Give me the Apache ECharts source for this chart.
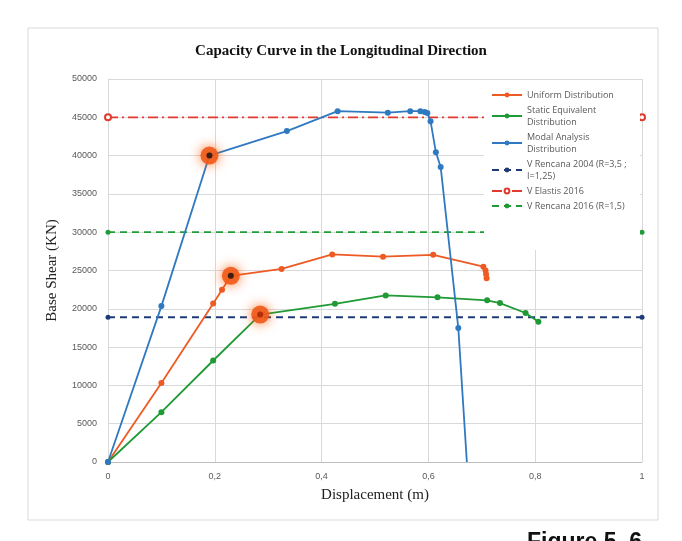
<!DOCTYPE html>
<html>
<head>
<meta charset="utf-8">
<script src="https://cdn.jsdelivr.net/npm/echarts@6/dist/echarts.min.js"></script>
<style>
  html, body { margin: 0; padding: 0; background: #fff; }
  #chart { width: 682px; height: 541px; }
</style>
</head>
<body>
<div id="chart"></div>
<script>
// displacement (m), base shear (KN)
const uniformDist = [
  [0, 0], [0.10, 10300], [0.197, 20700], [0.2135, 22500], [0.23, 24300],
  [0.325, 25200], [0.42, 27100], [0.515, 26800], [0.609, 27050],
  [0.703, 25500], [0.707, 25000], [0.708, 24500], [0.709, 24000]
];
const staticEquivalent = [
  [0, 0], [0.10, 6500], [0.197, 13250], [0.285, 19250], [0.425, 20650],
  [0.52, 21750], [0.617, 21500], [0.71, 21100], [0.734, 20750],
  [0.782, 19450], [0.806, 18300]
];
const modalAnalysis = [
  [0, 0], [0.10, 20350], [0.19, 40000], [0.335, 43200], [0.43, 45800],
  [0.524, 45600], [0.566, 45800], [0.585, 45800], [0.593, 45700],
  [0.598, 45550], [0.604, 44500], [0.614, 40450], [0.623, 38500],
  [0.656, 17500], [0.672, 0]
];
const refRange = [0, 1];
const vRencana2004 = 18900;
const vElastis2016 = 45000;
const vRencana2016 = 30000;
// performance points (glowing markers)
const perfPoints = [[0.19, 40000], [0.23, 24300], [0.285, 19250]];
const perfCenters = ['#111', '#111', '#a5200a'];

const xTicks = [0, 0.2, 0.4, 0.6, 0.8, 1];
const yTicks = [0, 5000, 10000, 15000, 20000, 25000, 30000, 35000, 40000, 45000, 50000];

const legendNames = {
  'Uniform Distribution': 'Uniform Distribution',
  'Static Equivalent Distribution': 'Static Equivalent\nDistribution',
  'Modal Analysis Distribution': 'Modal Analysis\nDistribution',
  'V Rencana 2004 (R=3,5 ; I=1,25)': 'V Rencana 2004 (R=3,5 ;\nI=1,25)',
  'V Elastis 2016': 'V Elastis 2016',
  'V Rencana 2016 (R=1,5)': 'V Rencana 2016 (R=1,5)'
};

const chart = echarts.init(document.getElementById('chart'), null, { renderer: 'canvas' });

function curve(name, data, color) {
  return {
    name: name,
    type: 'line',
    data: data.map((d, i) => (name === 'Modal Analysis Distribution' && i === data.length - 1)
      ? { value: d, symbol: 'none' } : d),
    symbol: 'circle',
    symbolSize: 6,
    lineStyle: { color: color, width: 1.8 },
    itemStyle: { color: color },
    z: 3
  };
}

function refLine(name, value, color, type, symbol) {
  const hollow = symbol === 'emptyCircle';
  return {
    name: name,
    type: 'line',
    data: refRange.map(x => [x, value]),
    symbol: symbol,
    symbolSize: hollow ? 6 : 5,
    lineStyle: { color: color, width: 1.8, type: type },
    itemStyle: { color: color, borderColor: color, borderWidth: hollow ? 1.5 : 0 },
    z: 2
  };
}

const option = {
  backgroundColor: '#fff',
  animation: false,
  title: {
    text: 'Capacity Curve in the Longitudinal Direction',
    left: 'center',
    top: 39,
    textStyle: { fontFamily: 'Liberation Serif', fontSize: 15, fontWeight: 'bold', color: '#111' }
  },
  grid: { left: 108, right: 40, top: 79, bottom: 79 },
  xAxis: {
    type: 'value',
    min: 0, max: 1, interval: 0.2,
    name: 'Displacement (m)',
    nameLocation: 'middle',
    nameGap: 26,
    nameTextStyle: { fontFamily: 'Liberation Serif', fontSize: 15, color: '#222' },
    axisLine: { lineStyle: { color: '#bfbfbf' } },
    axisTick: { show: false },
    axisLabel: {
      color: '#595959', fontSize: 9, margin: 10,
      formatter: v => xTicks.includes(v) ? String(v).replace('.', ',') : ''
    },
    splitLine: { lineStyle: { color: '#d9d9d9' } }
  },
  yAxis: {
    type: 'value',
    min: 0, max: 50000, interval: 5000,
    name: 'Base Shear (KN)',
    nameLocation: 'middle',
    nameGap: 48,
    nameTextStyle: { fontFamily: 'Liberation Serif', fontSize: 15, color: '#222' },
    axisLine: { show: true, lineStyle: { color: '#d9d9d9' } },
    axisTick: { show: false },
    axisLabel: {
      color: '#595959', fontSize: 9, margin: 11,
      formatter: v => yTicks.includes(v) ? String(v) : ''
    },
    splitLine: { lineStyle: { color: '#d9d9d9' } }
  },
  legend: {
    orient: 'vertical',
    left: 486,
    top: 84,
    itemWidth: 30,
    itemHeight: 6,
    itemGap: 3,
    textStyle: { color: '#595959', fontSize: 9, lineHeight: 12, fontFamily: 'Open Sans' },
    formatter: n => legendNames[n] || n,
    data: Object.keys(legendNames),
    z: 6
  },
  graphic: [
    { type: 'rect', shape: { x: 484, y: 80, width: 156, height: 170 }, style: { fill: '#fff' }, z: 5 },
    { type: 'rect', shape: { x: 28, y: 28, width: 630, height: 492 }, style: { fill: 'none', stroke: '#d9d9d9', lineWidth: 1 }, z: 0 },
    { type: 'text', left: 527, top: 531, style: { text: 'Figure 5. 6', font: 'bold 23px "Liberation Sans"', fill: '#111' }, z: 6 }
  ],
  series: [
    curve('Uniform Distribution', uniformDist, '#ee5a24'),
    curve('Static Equivalent Distribution', staticEquivalent, '#1f9a35'),
    curve('Modal Analysis Distribution', modalAnalysis, '#2f79c0'),
    refLine('V Rencana 2004 (R=3,5 ; I=1,25)', vRencana2004, '#1f3a78', [7, 5], 'circle'),
    refLine('V Elastis 2016', vElastis2016, '#e03a2e', [10, 4, 2, 4], 'emptyCircle'),
    refLine('V Rencana 2016 (R=1,5)', vRencana2016, '#1f9a35', [7, 5], 'circle'),
    {
      name: 'perf',
      type: 'scatter',
      data: perfPoints,
      symbolSize: 18,
      itemStyle: { color: '#f05a1a', shadowBlur: 12, shadowColor: 'rgba(255,90,0,0.9)', opacity: 0.9 },
      z: 4
    },
    {
      name: 'perfCenter',
      type: 'scatter',
      data: perfPoints,
      symbolSize: 6,
      itemStyle: { color: p => perfCenters[p.dataIndex] },
      z: 4
    }
  ]
};

chart.setOption(option);
</script>
</body>
</html>
